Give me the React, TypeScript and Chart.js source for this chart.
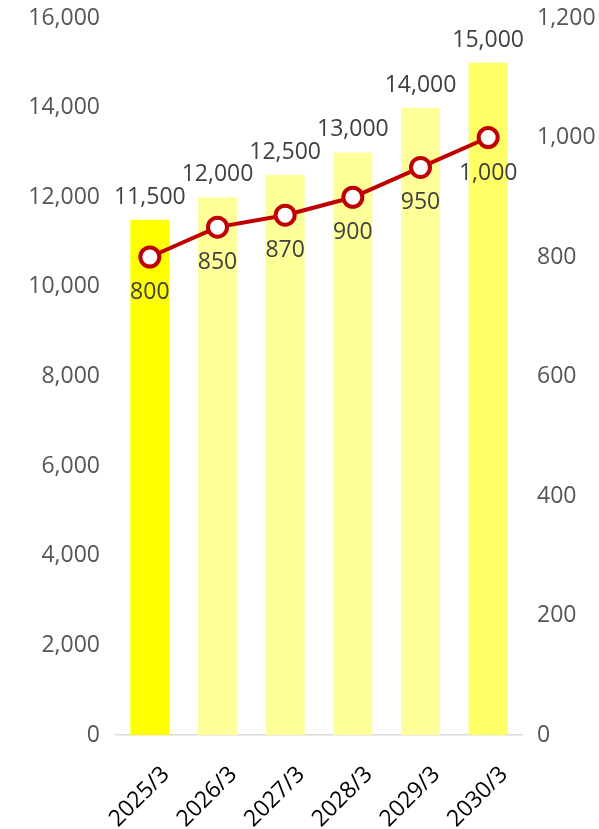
import React, { useEffect, useRef } from 'react';
import { Chart, registerables } from 'chart.js';

Chart.register(...registerables);

const categories = ['2025/3', '2026/3', '2027/3', '2028/3', '2029/3', '2030/3'];
const salesValues = [11500, 12000, 12500, 13000, 14000, 15000];
const profitValues = [800, 850, 870, 900, 950, 1000];
const barColors = ['#FFFF00', '#FFFF99', '#FFFF99', '#FFFF99', '#FFFF99', '#FFFF66'];
const leftAxis = { min: 0, max: 16000, step: 2000 };
const rightAxis = { min: 0, max: 1200, step: 200 };

const FONT = '"Open Sans", "Noto Sans", sans-serif';

const fmt = (v: number) => v.toLocaleString('en-US');

const valueLabels = {
  id: 'valueLabels',
  afterDatasetsDraw(chart: any) {
    const ctx = chart.ctx;
    ctx.save();
    ctx.font = `23px ${FONT}`;
    ctx.fillStyle = '#404040';
    ctx.textAlign = 'center';
    ctx.textBaseline = 'alphabetic';
    chart.data.datasets.forEach((ds: any, di: number) => {
      const meta = chart.getDatasetMeta(di);
      meta.data.forEach((el: any, i: number) => {
        const v = ds.data[i] as number;
        if (ds.type === 'bar') {
          ctx.fillText(fmt(v), el.x, el.y - 16);
        } else {
          ctx.fillText(fmt(v), el.x, el.y + 42);
        }
      });
    });
    ctx.restore();
  },
};

export default function App() {
  const ref = useRef<HTMLCanvasElement | null>(null);
  useEffect(() => {
    document.body.style.margin = '0';
    if (!ref.current) return;
    const chart = new Chart(ref.current, {
      type: 'bar',
      data: {
        labels: categories,
        datasets: [
          {
            type: 'line',
            label: 'profit',
            data: profitValues,
            yAxisID: 'y1',
            borderColor: '#C00000',
            borderWidth: 4,
            pointRadius: 9.5,
            pointBorderWidth: 4,
            pointBackgroundColor: '#FFFFFF',
            pointBorderColor: '#C00000',
            tension: 0,
            order: 0,
          } as any,
          {
            type: 'bar',
            label: 'sales',
            data: salesValues,
            yAxisID: 'y',
            backgroundColor: barColors,
            barPercentage: 0.576,
            categoryPercentage: 1,
            order: 1,
          } as any,
        ],
      },
      options: {
        animation: false,
        responsive: true,
        maintainAspectRatio: false,
        layout: { padding: { top: 18, left: 0, right: 0, bottom: 0 } },
        plugins: {
          legend: { display: false },
          tooltip: { enabled: false },
        },
        scales: {
          x: {
            grid: { display: false, drawTicks: false },
            border: { display: true, color: '#D9D9D9', width: 1.5 },
            ticks: {
              color: '#000000',
              font: { family: FONT, size: 23 },
              minRotation: 45,
              maxRotation: 45,
              padding: 26,
              labelOffset: 16,
              autoSkip: false,
            },
            afterFit: (s: any) => {
              s.height = 94;
            },
          },
          y: {
            position: 'left',
            min: leftAxis.min,
            max: leftAxis.max,
            grid: { display: false, drawTicks: false },
            border: { display: false },
            ticks: {
              stepSize: leftAxis.step,
              color: '#555555',
              font: { family: FONT, size: 23 },
              padding: 16,
              callback: (v: any) => fmt(Number(v)),
            },
            afterFit: (s: any) => {
              s.width = 116;
              s.paddingTop = 0;
              s.paddingBottom = 0;
            },
          },
          y1: {
            position: 'right',
            min: rightAxis.min,
            max: rightAxis.max,
            grid: { display: false, drawTicks: false },
            border: { display: false },
            ticks: {
              stepSize: rightAxis.step,
              color: '#555555',
              font: { family: FONT, size: 23 },
              padding: 15,
              callback: (v: any) => fmt(Number(v)),
            },
            afterFit: (s: any) => {
              s.width = 77;
              s.paddingTop = 0;
              s.paddingBottom = 0;
            },
          },
        },
      },
      plugins: [valueLabels],
    });
    return () => chart.destroy();
  }, []);
  return (
    <div style={{ position: 'relative', width: 599, height: 829 }}>
      <canvas ref={ref} />
    </div>
  );
}
